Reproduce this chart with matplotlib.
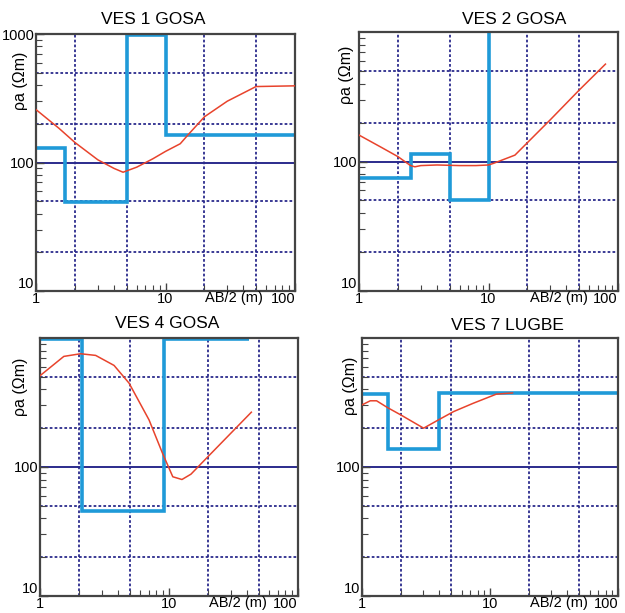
import matplotlib
matplotlib.use('Agg')
import matplotlib.pyplot as plt
from matplotlib.ticker import FixedLocator, LogLocator, NullFormatter

plt.rcParams['font.family'] = ['Liberation Sans', 'DejaVu Sans']

W, H = 625, 613

# VES 1 GOSA
ves1_ab = [1, 1.5, 2, 3, 4, 4.7, 6, 8, 10, 13, 15, 20, 30, 50, 100]
ves1_rho = [258, 185, 143, 105, 90, 84, 92, 107, 122, 140, 165, 227, 300, 390, 395]
ves1_edges = [1, 1.67, 5, 10, 100]
ves1_layers = [130, 49, 990, 165]

# VES 2 GOSA
ves2_ab = [1, 1.5, 2, 2.5, 2.7, 3, 4, 6, 8, 10, 11, 16, 30, 50, 80]
ves2_rho = [160, 128, 109, 93, 91, 93, 94, 93, 93, 94, 97, 112, 210, 355, 565]
ves2_edges = [1, 2.5, 5, 10, 100]
ves2_layers = [75, 114, 50, 5000]

# VES 4 GOSA
ves4_ab = [1, 1.53, 2.06, 2.7, 3.75, 4.9, 7.0, 8.9, 10.7, 12.6, 14.8, 20, 43.5]
ves4_rho = [510, 720, 755, 733, 613, 447, 232, 128, 84, 80, 88, 120, 266]
ves4_edges = [1, 2.1, 9.2, 42]
ves4_layers = [975, 46, 975]

# VES 7 LUGBE
ves7_ab = [1, 1.16, 1.3, 1.58, 2, 3.03, 3.96, 5.2, 7.4, 11.2, 15]
ves7_rho = [303, 326, 326, 289, 254, 200, 232, 269, 312, 367, 375]
ves7_edges = [1, 1.6, 4, 100]
ves7_layers = [365, 138, 375]

grid_x = [2, 5, 20, 50]
grid_y = [20, 50, 200, 500]

navy = '#2b2b8c'
blue = '#1f9ad8'
red = '#e8432c'
frame = '#444444'

fig = plt.figure(figsize=(W / 100, H / 100), dpi=100)


def px_text(x, y, s, **kw):
    fig.text(x / W, 1 - y / H, s, ha='center', va='center', **kw)


def ves_panel(box, title, ab, rho, edges, layers, ylabels, tpos, ypos, xpos):
    l, r, t, b = box
    ax = fig.add_axes([l / W, 1 - b / H, (r - l) / W, (b - t) / H])
    ax.set_xscale('log')
    ax.set_yscale('log')
    ax.set_xlim(1, 100)
    ax.set_ylim(10, 1000)
    for gx in grid_x:
        ax.axvline(gx, color=navy, lw=1.3, ls=(0, (1.5, 1.2)), zorder=1)
    for gy in grid_y:
        ax.axhline(gy, color=navy, lw=1.3, ls=(0, (1.5, 1.2)), zorder=1)
    ax.axhline(100, color=navy, lw=1.4, zorder=1)
    ax.plot(ab, rho, color=red, lw=1.1, zorder=3)
    ax.stairs(layers, edges, baseline=None, color=blue, lw=2.6, zorder=2)

    ax.xaxis.set_major_locator(FixedLocator([1, 10, 100]))
    ax.set_xticklabels(['1', '10', '100'])
    ax.xaxis.set_minor_locator(LogLocator(base=10, subs=range(2, 10)))
    ax.xaxis.set_minor_formatter(NullFormatter())
    ax.yaxis.set_major_locator(FixedLocator([float(v) for v in ylabels]))
    ax.set_yticklabels(ylabels)
    ax.yaxis.set_minor_locator(LogLocator(base=10, subs=range(2, 10)))
    ax.yaxis.set_minor_formatter(NullFormatter())
    ax.tick_params(which='both', direction='in', top=False, right=False,
                   color=frame, labelsize=10.5, pad=1)
    ax.tick_params(which='major', length=6, width=1)
    ax.tick_params(which='minor', length=4, width=0.8)
    ax.get_xticklabels()[-1].set_ha('right')
    ax.get_yticklabels()[0].set_va('bottom')
    for s in ax.spines.values():
        s.set_color(frame)
        s.set_linewidth(1.6)

    px_text(tpos[0], tpos[1], title, fontsize=12.5)
    px_text(ypos[0], ypos[1], 'ρa (Ωm)', fontsize=11.5, rotation=90)
    px_text(xpos[0], xpos[1], 'AB/2 (m)', fontsize=10.5)
    return ax


ves_panel((36, 295, 34, 291), 'VES 1 GOSA', ves1_ab, ves1_rho, ves1_edges, ves1_layers,
          ['10', '100', '1000'], (153, 19), (21, 81), (234, 298))
ves_panel((359, 618, 32, 291), 'VES 2 GOSA', ves2_ab, ves2_rho, ves2_edges, ves2_layers,
          ['10', '100'], (514, 20), (346, 75), (559, 298))
ves_panel((40, 298, 338, 596), 'VES 4 GOSA', ves4_ab, ves4_rho, ves4_edges, ves4_layers,
          ['10', '100'], (167, 324), (21, 387), (238, 603))
ves_panel((362, 618, 338, 596), 'VES 7 LUGBE', ves7_ab, ves7_rho, ves7_edges, ves7_layers,
          ['10', '100'], (507, 326), (350, 386), (559, 603))

fig.savefig('out.png', dpi=100)
